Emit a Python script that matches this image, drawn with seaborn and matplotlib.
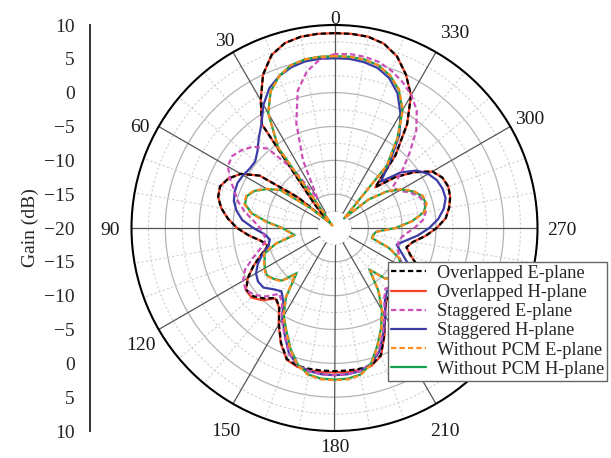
import numpy as np
import pandas as pd
import matplotlib
matplotlib.use("Agg")
import matplotlib.pyplot as plt
from matplotlib.lines import Line2D
from matplotlib.ticker import FixedLocator, MultipleLocator
import seaborn as sns

sns.set_theme(style="white")
plt.rcParams["font.family"] = ["Liberation Serif", "DejaVu Serif"]
plt.rcParams["axes.unicode_minus"] = True

# Measurement angles (degrees, counter-clockwise from boresight)
angles = list(range(0, 365, 5))

overlapped_e = [
    8.8, 8.8, 8.7, 8.3, 7.2, 5.0, 1.8, -1.3, -15.5, -18.5,
    -13.0, -6.5, -4.0, -2.7, -2.0, -2.2, -3.0, -4.2, -5.6, -7.3,
    -9.0, -9.8, -8.5, -6.8, -5.2, -4.1, -4.3, -5.3, -6.5, -5.8,
    -3.6, -1.3, 0.6, 1.1, 1.15, 1.15, 1.15, 1.15, 1.15, 1.0,
    0.0, -2.6, -5.2, -6.8, -7.2, -6.2, -4.8, -4.1, -4.8, -6.3,
    -8.0, -9.0, -8.2, -6.5, -4.9, -3.5, -2.8, -2.3, -2.1, -2.4,
    -3.3, -5.6, -8.3, -11.5, -6.0, -1.3, 2.6, 5.0, 7.0, 8.2,
    8.7, 8.8, 8.8,
]
overlapped_h = [
    8.8, 8.8, 8.7, 8.3, 7.2, 5.0, 1.8, -1.3, -15.5, -18.5,
    -13.0, -6.5, -4.0, -2.7, -2.0, -2.2, -3.0, -4.2, -5.6, -7.3,
    -9.0, -9.8, -8.5, -6.8, -5.2, -4.0, -4.0, -4.9, -6.4, -5.7,
    -3.5, -1.2, 0.7, 1.25, 1.35, 1.35, 1.35, 1.35, 1.3, 1.1,
    0.1, -2.5, -5.1, -6.7, -7.1, -6.1, -4.7, -4.0, -4.7, -6.2,
    -8.0, -9.0, -8.2, -6.5, -4.9, -3.5, -2.8, -2.3, -2.1, -2.4,
    -3.3, -5.6, -8.3, -11.5, -6.0, -1.3, 2.6, 5.0, 7.0, 8.2,
    8.7, 8.8, 8.8,
]
staggered_e = [
    5.7, 5.0, 3.5, 1.0, -3.5, -9.0, -15.0, -9.5, -4.7, -3.0,
    -2.1, -1.5, -1.8, -3.0, -4.3, -5.3, -6.6, -8.0, -9.0, -9.5,
    -9.7, -8.8, -7.2, -5.4, -4.4, -4.0, -4.6, -5.7, -7.3, -6.5,
    -4.4, -2.5, -0.3, 1.0, 1.5, 1.7, 1.75, 1.7, 1.5, 0.8,
    -0.8, -3.0, -5.2, -7.2, -8.3, -7.8, -7.0, -7.2, -8.2, -9.3,
    -10.0, -10.3, -10.3, -9.5, -8.2, -6.9, -6.3, -6.2, -6.6, -7.6,
    -9.0, -9.5, -7.0, -4.3, -1.2, 1.2, 2.7, 3.8, 4.7, 5.4,
    5.7, 5.8, 5.7,
]
staggered_h = [
    5.1, 5.1, 5.0, 4.6, 3.9, 2.8, 1.0, -1.2, -2.6, -3.9,
    -4.7, -4.7, -4.4, -4.2, -4.3, -4.6, -5.3, -6.3, -8.0, -9.6,
    -10.3, -9.9, -8.7, -7.5, -6.6, -6.2, -6.3, -7.2, -7.8, -6.8,
    -4.6, -2.6, -0.3, 1.0, 1.5, 1.7, 1.75, 1.7, 1.5, 0.8,
    -0.6, -2.9, -5.0, -7.0, -7.9, -7.3, -6.5, -6.5, -7.0, -8.2,
    -9.5, -10.5, -9.3, -7.6, -6.0, -4.6, -3.6, -3.0, -3.0, -3.3,
    -4.0, -5.2, -7.2, -10.3, -7.3, -3.3, -0.5, 2.0, 3.6, 4.5,
    4.9, 5.1, 5.1,
]
without_pcm_e = [
    5.4, 5.4, 5.3, 4.9, 3.9, 2.3, -0.4, -5.5, -19.5, -18.5,
    -15.5, -10.2, -8.4, -6.9, -6.1, -6.2, -7.5, -9.9, -12.2, -13.2,
    -13.8, -10.9, -8.9, -8.5, -8.0, -7.7, -8.2, -8.9, -11.0, -7.4,
    -4.9, -3.1, -0.9, 1.0, 2.1, 2.45, 2.5, 2.45, 2.1, 0.9,
    -1.4, -3.6, -5.9, -8.6, -11.8, -9.4, -8.4, -8.2, -8.5, -9.4,
    -11.4, -14.2, -14.1, -13.7, -10.9, -8.4, -6.5, -5.9, -6.1, -7.1,
    -8.5, -10.5, -13.4, -18.0, -7.9, -3.7, 0.2, 2.6, 4.0, 4.9,
    5.3, 5.4, 5.4,
]
without_pcm_h = [
    5.4, 5.4, 5.3, 4.9, 3.9, 2.3, -0.4, -5.5, -19.5, -18.5,
    -15.5, -10.2, -8.5, -7.0, -6.2, -6.3, -7.6, -10.1, -12.3, -13.3,
    -14.0, -11.0, -9.0, -8.6, -8.1, -7.8, -8.3, -9.0, -11.3, -7.5,
    -5.0, -3.2, -1.0, 0.9, 2.0, 2.35, 2.4, 2.35, 2.0, 0.8,
    -1.5, -3.7, -6.0, -8.7, -12.0, -9.5, -8.5, -8.3, -8.6, -9.5,
    -11.5, -14.3, -14.2, -13.8, -11.0, -8.5, -6.6, -6.0, -6.2, -7.2,
    -8.6, -10.6, -13.5, -18.0, -8.0, -3.8, 0.1, 2.5, 4.0, 4.9,
    5.3, 5.4, 5.4,
]

series_names = [
    "Overlapped E-plane", "Overlapped H-plane", "Staggered E-plane",
    "Staggered H-plane", "Without PCM E-plane", "Without PCM H-plane",
]
series_values = [overlapped_e, overlapped_h, staggered_e,
                 staggered_h, without_pcm_e, without_pcm_h]
series_colors = ["#000000", "#f4432c", "#cc4fb8", "#3b3ba6", "#ff8a1e", "#14a14e"]
series_dashed = [True, False, True, False, True, False]
# drawing order: solid traces underneath their dashed twins
draw_order = [1, 0, 3, 2, 5, 4]

# angular tick labels (240 sits behind the legend) and their centres in pixels
angle_ticks = list(range(0, 360, 30))
angle_label_xy = {
    0: (335, 17), 30: (225, 39), 60: (140, 126), 90: (110, 228),
    120: (141, 343), 150: (226, 429), 180: (335, 445), 210: (445, 429),
    270: (562, 228), 300: (530, 117), 330: (455, 32),
}

df = pd.concat(
    [pd.DataFrame({"angle": angles, "gain": vals, "series": name})
     for name, vals in zip(series_names, series_values)],
    ignore_index=True,
)
df["theta"] = np.deg2rad(df["angle"])

R_MIN, R_MAX = -20, 10
W, H = 611, 458
fig = plt.figure(figsize=(W / 100, H / 100), dpi=100)

# polar plot area
cx, cy, rad = 334.5, 228.0, 203.0
ax = fig.add_axes([(cx - rad) / W, (H - cy - rad) / H, 2 * rad / W, 2 * rad / H],
                  projection="polar")
ax.set_theta_zero_location("N")
ax.set_theta_direction(1)
ax.grid(False)

# grid rings and spokes
ring = np.linspace(0, 2 * np.pi, 721)
for r in np.arange(-17.5, R_MAX, 2.5):
    if r % 5 == 0:
        ax.plot(ring, np.full_like(ring, r), color="#b4b4b4", lw=0.9, zorder=1)
    else:
        ax.plot(ring, np.full_like(ring, r), color="#cfcfcf", lw=0.8,
                linestyle=(0, (2, 2)), zorder=1)
for a in range(0, 360, 10):
    t = np.deg2rad(a)
    if a % 30 == 0:
        ax.plot([t, t], [-17.5, R_MAX], color="#555555", lw=0.9, zorder=1.2)
    else:
        ax.plot([t, t], [-15, R_MAX], color="#cfcfcf", lw=0.8,
                linestyle=(0, (2, 2)), zorder=1)
ax.fill(ring, np.full_like(ring, -17.6), color="white", zorder=1.5, lw=0)

for i in draw_order:
    name = series_names[i]
    sub = df[df["series"] == name]
    ls = (0, (2.4, 1.4)) if series_dashed[i] else "-"
    sns.lineplot(data=sub, x="theta", y="gain", ax=ax, sort=False,
                 estimator=None, color=series_colors[i], linestyle=ls,
                 linewidth=1.6, zorder=3 + draw_order.index(i))
ax.set_xlabel("")
ax.set_ylabel("")

ax.set_ylim(R_MIN, R_MAX)
ax.set_yticks([])
ax.set_xticks(np.deg2rad(angle_ticks))
ax.set_xticklabels([""] * len(angle_ticks))
ax.set_xticks(np.deg2rad([a for a in range(0, 360, 10) if a % 30]), minor=True)
ax.tick_params(axis="x", which="major", direction="in", length=6, width=1,
               color="black")
ax.tick_params(axis="x", which="minor", direction="in", length=5, width=1,
               color="black")
ax.spines["polar"].set_linewidth(1.5)
ax.spines["polar"].set_color("black")
ax.set_facecolor("white")

for a, (px, py) in angle_label_xy.items():
    fig.text(px / W, 1 - py / H, str(a), fontsize=14, ha="center",
             va="center_baseline", color="#1a1a1a")

# vertical gain scale on the left, mirrored about the centre (-20 dB)
ax2 = fig.add_axes([90 / W, (H - cy - rad) / H, 0.0001, 2 * rad / H])
ax2.set_ylim(-30, 30)
ax2.patch.set_visible(False)
for s in ["top", "right", "bottom"]:
    ax2.spines[s].set_visible(False)
ax2.spines["left"].set_linewidth(1.4)
ax2.spines["left"].set_color("#333333")
ax2.xaxis.set_visible(False)
pos = np.arange(-30, 31, 5)
ax2.yaxis.set_major_locator(FixedLocator(pos))
ax2.set_yticklabels([f"{R_MIN + abs(p):d}".replace("-", "\u2212") for p in pos],
                    fontsize=14)
ax2.yaxis.set_minor_locator(MultipleLocator(2.5))
ax2.tick_params(axis="y", which="major", direction="out", length=7, width=1.2,
                color="#333333", pad=4)
ax2.tick_params(axis="y", which="minor", direction="out", length=4, width=1.2,
                color="#333333")
ax2.set_ylabel("Gain (dB)", fontsize=14, labelpad=4)

handles = [
    Line2D([], [], color=c, lw=1.6, linestyle=(0, (2.4, 1.4)) if d else "-")
    for c, d in zip(series_colors, series_dashed)
]
leg = fig.legend(handles, series_names, loc="upper left",
                 bbox_to_anchor=(388 / W, 1 - 262 / H), frameon=True,
                 fancybox=False, framealpha=1, edgecolor="#666666",
                 fontsize=13.2, handlelength=1.9, handletextpad=0.6,
                 labelspacing=0.12, borderpad=0.15, borderaxespad=0)
leg.set_zorder(10)
leg.get_frame().set_linewidth(1.0)

fig.savefig("out.png", dpi=100)
